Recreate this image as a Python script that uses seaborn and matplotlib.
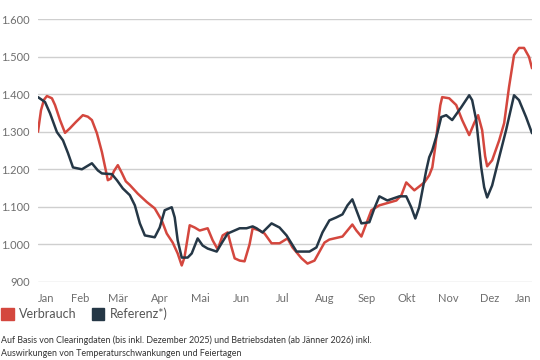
import numpy as np
import pandas as pd
import matplotlib
matplotlib.use("Agg")
import matplotlib.pyplot as plt
from matplotlib.patches import Patch
import seaborn as sns

verbrauch_tag = [0, 2.2, 4.4, 6.6, 10.3, 12.6, 16.3, 20.0, 23.6, 28.1, 33.2, 36.9, 39.9, 43.6,
                 47.3, 50.2, 51.7, 53.9, 56.2, 59.1, 62.1, 65.0, 68.0, 73.9, 80.5, 86.4, 91.6,
                 95.3, 99.7, 103.4, 106.4, 108.4, 112.3, 116.0, 119.7, 125.6, 129.3, 133.0,
                 136.7, 140.4, 143.3, 145.6, 149.3, 152.9, 156.6, 158.9, 164.0, 167.7, 172.9,
                 178.8, 184.7, 188.4, 195.1, 199.5, 204.7, 212.1, 215.7, 225.4, 232.7, 235.7,
                 239.4, 243.1, 246.8, 252.7, 265.3, 269.0, 272.6, 278.6, 286.0, 289.6, 291.9,
                 294.1, 295.6, 297.8, 299.2, 304.4, 309.6, 314.0, 319.2, 322.9, 325.8, 328.8,
                 331.0, 332.5, 336.2, 341.4, 345.1, 348.7, 352.4, 356.1, 359.8, 363.5, 365.7]
verbrauch = [1300, 1357, 1385, 1395, 1389, 1371, 1331, 1297, 1309, 1326, 1344, 1340, 1331, 1296,
             1246, 1197, 1171, 1175, 1195, 1211, 1190, 1168, 1158, 1135, 1113, 1096, 1064,
             1029, 1005, 976, 944, 965, 1051, 1045, 1037, 1043, 1011, 987,
             1024, 1032, 992, 963, 957, 955, 1000, 1043, 1037, 1029, 1003,
             1003, 1016, 992, 963, 949, 957, 1005, 1013, 1021, 1053, 1037,
             1021, 1056, 1091, 1104, 1117, 1131, 1165, 1144, 1165, 1184, 1205,
             1260, 1308, 1370, 1392, 1389, 1371, 1331, 1291, 1323, 1344, 1304,
             1235, 1208, 1224, 1277, 1323, 1419, 1504, 1523, 1523, 1499, 1469]

referenz_tag = [0, 5.2, 8.9, 14.0, 18.5, 22.2, 25.9, 32.5, 39.9, 44.3, 47.3, 54.7, 58.4, 62.8,
                68.0, 71.7, 75.4, 79.1, 86.4, 90.1, 93.8, 99.0, 101.2, 103.4, 106.4, 110.8,
                113.8, 118.2, 121.9, 125.6, 132.3, 135.9, 140.4, 149.3, 154.4, 158.9, 161.8,
                166.2, 172.9, 178.8, 184.0, 191.4, 201.0, 206.1, 210.6, 215.7, 220.9, 225.4,
                229.1, 232.7, 235.7, 239.4, 245.3, 249.0, 252.7, 258.6, 267.5, 272.6, 276.3,
                279.3, 282.2, 287.4, 289.6, 291.9, 295.6, 298.5, 302.2, 306.6, 313.3, 319.2,
                321.4, 324.4, 328.1, 330.3, 332.5, 336.2, 341.4, 346.5, 352.4, 356.1, 361.3, 365.7]
referenz = [1392, 1379, 1349, 1299, 1277, 1243, 1205, 1200, 1216, 1197, 1189, 1187, 1171, 1149,
            1131, 1104, 1056, 1024, 1019, 1045, 1091, 1099, 1072, 1011, 965, 965,
            976, 1016, 997, 989, 981, 1003, 1029, 1043, 1043, 1048, 1043,
            1032, 1056, 1045, 1024, 981, 981, 992, 1032, 1064, 1072, 1080,
            1104, 1120, 1091, 1056, 1059, 1096, 1128, 1117, 1128, 1128, 1099,
            1069, 1099, 1197, 1232, 1251, 1296, 1339, 1344, 1331, 1365, 1397,
            1384, 1331, 1205, 1152, 1125, 1157, 1232, 1304, 1397, 1384, 1339, 1296]

monat_tag = [0, 31, 59, 90, 120, 151, 181, 212, 243, 273, 304, 334, 365]
monate = ["Jan", "Feb", "Mär", "Apr", "Mai", "Jun", "Jul", "Aug", "Sep", "Okt", "Nov", "Dez", "Jan"]

rot = "#d4473e"
dunkel = "#253746"
grau = "#6e6e6e"

sns.set_style("white")
plt.rcParams["font.family"] = ["Lato", "DejaVu Sans"]

fig = plt.figure(figsize=(5.4, 3.6), dpi=100)
ax = fig.add_axes([38 / 540, 1 - 282 / 360, 494 / 540, 263 / 360])

sns.lineplot(x=verbrauch_tag, y=verbrauch, ax=ax, color=rot, linewidth=1.8, sort=False)
sns.lineplot(x=referenz_tag, y=referenz, ax=ax, color=dunkel, linewidth=1.8, sort=False)

ax.set_xlim(0, 365.7)
ax.set_ylim(900, 1600)
ax.set_yticks(range(900, 1601, 100))
ax.set_yticklabels([f"{v:,}".replace(",", ".") for v in range(900, 1601, 100)])
ax.yaxis.grid(True, color="#cfcfcf", linewidth=1)
ax.set_axisbelow(True)
for s in ax.spines.values():
    s.set_visible(False)
ax.set_xticks(monat_tag)
ax.set_xticklabels(monate)
labels = ax.get_xticklabels()
labels[0].set_horizontalalignment("left")
labels[-1].set_horizontalalignment("right")
ax.tick_params(axis="both", length=0, labelsize=8, labelcolor=grau)
ax.tick_params(axis="y", pad=6)
ax.tick_params(axis="x", pad=8)
ax.set_xlabel("")
ax.set_ylabel("")

handles = [Patch(color=rot, label="Verbrauch"), Patch(color=dunkel, label="Referenz*)")]
fig.legend(handles=handles, loc="center left", bbox_to_anchor=(0.002, 1 - 314 / 360), ncol=2,
           frameon=False, borderaxespad=0, borderpad=0, handlelength=1.0, handleheight=1.0,
           handletextpad=0.45, columnspacing=1.2, fontsize=9, labelcolor="#555555")

fig.text(0.002, 1 - 340 / 360, "Auf Basis von Clearingdaten (bis inkl. Dezember 2025) und Betriebsdaten (ab Jänner 2026) inkl.",
         fontsize=6.4, color="#333333", va="center", ha="left")
fig.text(0.002, 1 - 354 / 360, "Auswirkungen von Temperaturschwankungen und Feiertagen",
         fontsize=6.4, color="#333333", va="center", ha="left")

fig.savefig("out.png", dpi=100)
